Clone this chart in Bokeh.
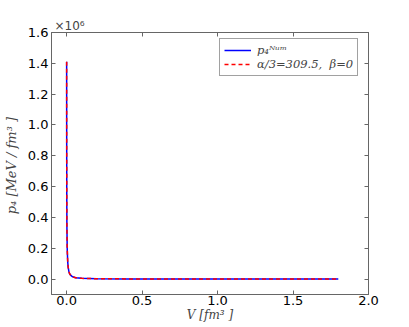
from bokeh.plotting import figure
from bokeh.models import ColumnDataSource, FixedTicker, LinearAxis, Title, Legend, LegendItem, Range1d
from bokeh.embed import file_html
from bokeh.resources import INLINE

# data
V = [0.0003, 0.0005, 0.001, 0.002, 0.004, 0.007, 0.01, 0.015, 0.02, 0.03, 0.04, 0.06, 0.1, 0.2, 0.4, 0.7, 1.0, 1.4, 1.8]
p_num = [1410000, 1000000, 600000, 350000, 200000, 120000, 80000, 50000, 35000, 22000, 15000, 9000, 5000, 2500, 1200, 700, 500, 350, 280]
p_fit = [1410000, 1000000, 600000, 350000, 200000, 120000, 80000, 50000, 35000, 22000, 15000, 9000, 5000, 2500, 1200, 700, 500, 350, 280]
x_ticks = [0.0, 0.5, 1.0, 1.5, 2.0]
x_tick_labels = ["0.0", "0.5", "1.0", "1.5", "2.0"]
y_ticks = [0, 200000, 400000, 600000, 800000, 1000000, 1200000, 1400000, 1600000]
y_tick_labels = ["0.0", "0.2", "0.4", "0.6", "0.8", "1.0", "1.2", "1.4", "1.6"]
label_num = "p\u2084\u1d3a\u1d58\u1d50"
label_fit = "\u03b1/3=309.5,  \u03b2=0"
scale_text = "\u00d710\u2076"

src = ColumnDataSource(dict(V=V, p_num=p_num, p_fit=p_fit))

p = figure(width=393, height=324, output_backend="svg", toolbar_location=None,
           x_range=Range1d(-0.1, 2.0), y_range=Range1d(-100000, 1600000),
           min_border_left=43, min_border_top=32, min_border_right=25, min_border_bottom=5)
p.grid.visible = False
p.outline_line_color = "#666666"
p.outline_line_width = 1
p.background_fill_color = "white"
p.border_fill_color = "white"

p.title = Title(text=scale_text, align="left", offset=3, standoff=0,
                text_font="DejaVu Sans", text_font_size="12px", text_font_style="normal")

r1 = p.line("V", "p_num", source=src, line_color="#0000ff", line_width=1.5)
r2 = p.line("V", "p_fit", source=src, line_color="#ff0000", line_width=1.5, line_dash="4 3")

def style(ax, labels=True):
    ax.axis_line_color = "#666666"
    ax.major_tick_line_color = "#666666"
    ax.major_tick_in = 4
    ax.major_tick_out = 0
    ax.minor_tick_line_color = None
    ax.major_label_text_font = "DejaVu Sans"
    ax.major_label_text_font_size = "13px"
    ax.major_label_text_color = "black"
    if not labels:
        ax.major_label_text_font_size = "0px"
        ax.major_label_text_color = None
        ax.major_label_standoff = 0

xa = p.xaxis[0]
xa.ticker = FixedTicker(ticks=x_ticks)
xa.major_label_overrides = dict(zip(x_ticks, x_tick_labels))
style(xa)
xa.major_label_standoff = 1
xa.axis_label = "V [fm\u00b3 ]"
xa.axis_label_text_font = "DejaVu Serif"
xa.axis_label_text_font_style = "italic"
xa.axis_label_text_font_size = "12px"
xa.axis_label_standoff = 0

ya = p.yaxis[0]
ya.ticker = FixedTicker(ticks=y_ticks)
ya.major_label_overrides = dict(zip(y_ticks, y_tick_labels))
style(ya)
ya.major_label_standoff = 3
ya.axis_label = "p\u2084  [MeV / fm\u00b3 ]"
ya.axis_label_text_font = "DejaVu Serif"
ya.axis_label_text_font_style = "italic"
ya.axis_label_text_font_size = "13px"
ya.axis_label_standoff = 6

ra = LinearAxis(ticker=FixedTicker(ticks=y_ticks))
style(ra, labels=False)
p.add_layout(ra, "right")
ta = LinearAxis(ticker=FixedTicker(ticks=x_ticks))
style(ta, labels=False)
p.add_layout(ta, "above")

legend = Legend(items=[LegendItem(label=label_num, renderers=[r1]),
                       LegendItem(label=label_fit, renderers=[r2])],
                location="top_right")
legend.label_text_font = "DejaVu Serif"
legend.label_text_font_style = "italic"
legend.label_text_font_size = "11.5px"
legend.border_line_color = "#444444"
legend.border_line_width = 1
legend.background_fill_alpha = 1.0
legend.glyph_width = 27
legend.glyph_height = 14
legend.label_height = 14
legend.spacing = 0
legend.padding = 4
legend.margin = 0
legend.label_standoff = 6
legend.location = (168, 218)
p.add_layout(legend)

open("out.html", "w").write(file_html(p, INLINE))
